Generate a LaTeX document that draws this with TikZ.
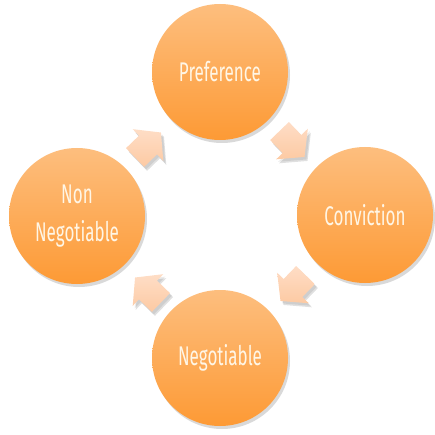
\documentclass[tikz,border=0pt]{standalone}
\usepackage{fontspec}
\newfontfamily\cyclefont[FakeStretch=0.63]{Fira Sans}
\usetikzlibrary{shadows}
\definecolor{circtop}{HTML}{FDBE7E}
\definecolor{circbot}{HTML}{FD9A35}
\definecolor{arrtop}{HTML}{FEDDC6}
\definecolor{arrbot}{HTML}{FDCAA3}
\definecolor{labeltext}{HTML}{FFF6E6}

\tikzset{
  pics/blockarrow/.style={code={
      \fill[black, opacity=0.12, xshift=3pt, yshift=-4pt, rotate=#1]
        (-18,-13) -- (0,-13) -- (0,-22) -- (18,0) -- (0,22) -- (0,13) -- (-18,13) -- cycle;
      \fill[black, opacity=0.08, xshift=2pt, yshift=-2.5pt, rotate=#1]
        (-18,-13) -- (0,-13) -- (0,-22) -- (18,0) -- (0,22) -- (0,13) -- (-18,13) -- cycle;
      \shade[top color=arrtop, bottom color=arrbot, rotate=#1]
        (-18,-13) -- (0,-13) -- (0,-22) -- (18,0) -- (0,22) -- (0,13) -- (-18,13) -- cycle;
  }}
}

\begin{document}
\begin{tikzpicture}[
    x=1pt, y=-1pt,
    stage/.style={circle, draw=none, minimum size=136pt, inner sep=0pt,
      top color=circtop, bottom color=circbot,
      drop shadow={opacity=0.3, shadow xshift=2pt, shadow yshift=-3pt},
      text=labeltext, align=center,
      font=\cyclefont\fontsize{27}{38}\selectfont}
  ]
  \useasboundingbox (0,0) rectangle (434,435);

  % stages of the cycle
  \node[stage] (pref) at (220,72) {Preference};
  \node[stage] (conv) at (365,215) {Conviction};
  \node[stage] (neg) at (220,358) {Negotiable};
  \node[stage] (nonneg) at (77,216) {Non\\Negotiable};

  % block arrows, clockwise
  \pic (a1) at (148,145) {blockarrow=44};
  \pic (a2) at (292,144) {blockarrow=-46};
  \pic (a3) at (293,288) {blockarrow=-134};
  \pic (a4) at (148,290) {blockarrow=136};
\end{tikzpicture}
\end{document}
